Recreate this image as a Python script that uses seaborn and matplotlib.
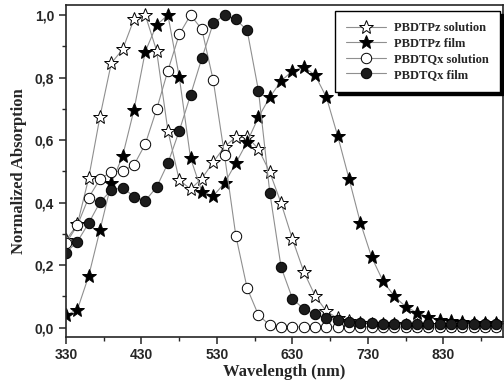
import numpy as np
import pandas as pd
import seaborn as sns
import matplotlib
matplotlib.use("Agg")
import matplotlib.pyplot as plt
from matplotlib.ticker import FuncFormatter, MultipleLocator, FixedLocator

wavelength = list(range(330, 901, 15))

pz_solution = [0.28, 0.33, 0.478, 0.675, 0.846, 0.89, 0.986, 1.0, 0.886, 0.63,
               0.472, 0.443, 0.477, 0.529, 0.579, 0.609, 0.611, 0.571, 0.497, 0.398,
               0.283, 0.179, 0.102, 0.052, 0.03, 0.02, 0.015, 0.012, 0.01, 0.01,
               0.008, 0.008, 0.008, 0.008, 0.008, 0.008, 0.008, 0.008, 0.008]

pz_film = [0.04, 0.057, 0.165, 0.312, 0.462, 0.549, 0.696, 0.883, 0.968, 1.0,
           0.803, 0.542, 0.435, 0.421, 0.462, 0.526, 0.594, 0.673, 0.737, 0.789,
           0.821, 0.833, 0.808, 0.737, 0.613, 0.476, 0.336, 0.225, 0.149, 0.100,
           0.067, 0.048, 0.034, 0.025, 0.02, 0.017, 0.015, 0.015, 0.015]

qx_solution = [0.27, 0.327, 0.416, 0.475, 0.499, 0.501, 0.52, 0.587, 0.698, 0.822,
               0.938, 1.0, 0.954, 0.792, 0.552, 0.294, 0.126, 0.04, 0.008, 0.003,
               0.002, 0.002, 0.002, 0.002, 0.002, 0.002, 0.002, 0.002, 0.002, 0.002,
               0.002, 0.002, 0.002, 0.002, 0.002, 0.002, 0.002, 0.002, 0.002]

qx_film = [0.24, 0.275, 0.334, 0.401, 0.44, 0.448, 0.419, 0.406, 0.449, 0.526,
           0.629, 0.744, 0.862, 0.973, 1.0, 0.986, 0.951, 0.758, 0.432, 0.193,
           0.093, 0.059, 0.043, 0.03, 0.025, 0.019, 0.016, 0.015, 0.012, 0.012,
           0.01, 0.01, 0.01, 0.01, 0.01, 0.01, 0.01, 0.01, 0.01]

series_names = ["PBDTPz solution", "PBDTPz film", "PBDTQx solution", "PBDTQx film"]
x_ticks = [330, 430, 530, 630, 730, 830]
y_ticks = [0.0, 0.2, 0.4, 0.6, 0.8, 1.0]

sns.set_style("ticks")
plt.rcParams["font.family"] = ["Liberation Sans", "DejaVu Sans"]

fig = plt.figure(figsize=(5.04, 3.85), dpi=100)
ax = fig.add_axes([0.131, 0.1255, 0.867, 0.8615])

styles = [
    dict(marker="*", markerfacecolor="white", markersize=10),
    dict(marker="*", markerfacecolor="black", markersize=10),
    dict(marker="o", markerfacecolor="white", markersize=7.5),
    dict(marker="o", markerfacecolor="#1c1c1c", markersize=7.5),
]
data = [pz_solution, pz_film, qx_solution, qx_film]

for name, vals, st in zip(series_names, data, styles):
    df = pd.DataFrame({"wl": wavelength, "v": vals})
    sns.lineplot(data=df, x="wl", y="v", ax=ax, color="#8f8f8f", linewidth=0.8,
                 markeredgecolor="black", markeredgewidth=0.7, label=name, **st)

ax.set_xlim(330, 909)
ax.set_ylim(-0.029, 1.032)
ax.xaxis.set_major_locator(FixedLocator(x_ticks))
ax.xaxis.set_minor_locator(FixedLocator([380, 480, 580, 680, 780, 880]))
ax.yaxis.set_major_locator(FixedLocator(y_ticks))
ax.yaxis.set_minor_locator(MultipleLocator(0.1))
ax.yaxis.set_major_formatter(FuncFormatter(lambda v, p: f"{v:.1f}".replace(".", ",")))
ax.tick_params(which="major", direction="out", length=5, width=1.1, labelsize=10)
ax.tick_params(which="minor", direction="out", length=3, width=1.0)
for lab in ax.get_xticklabels() + ax.get_yticklabels():
    lab.set_fontweight("bold")

for sp in ax.spines.values():
    sp.set_linewidth(1.2)
    sp.set_visible(True)

serif = ["Liberation Serif", "DejaVu Serif"]
ax.set_xlabel("Wavelength (nm)", fontsize=12, fontweight="bold", family=serif, labelpad=1)
ax.set_ylabel("Normalized Absorption", fontsize=12, fontweight="bold", family=serif, labelpad=6)

leg = ax.legend(loc="upper right", bbox_to_anchor=(0.993, 0.982), frameon=True,
                fancybox=False, shadow={"color": "black", "alpha": 1},
                prop={"family": serif, "weight": "bold", "size": 9},
                handlelength=3.2, labelspacing=0.28, borderpad=0.9, handletextpad=0.6,
                borderaxespad=0)
leg.get_frame().set_edgecolor("black")
leg.get_frame().set_linewidth(1.0)

fig.savefig("out.png", dpi=100)
